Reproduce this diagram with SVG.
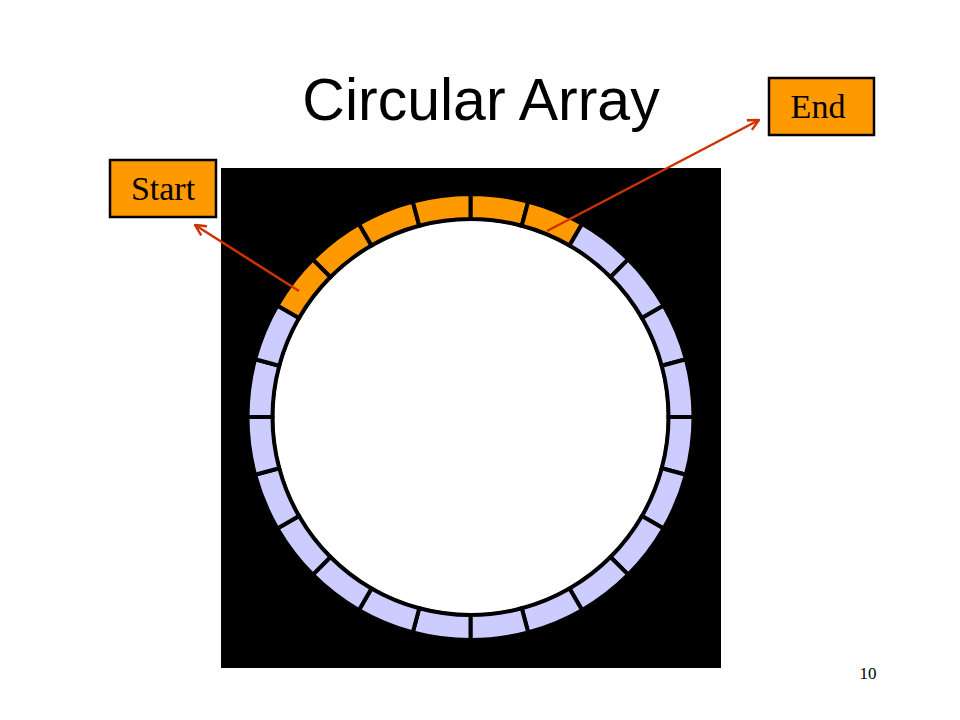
<svg xmlns="http://www.w3.org/2000/svg" width="960" height="720" viewBox="0 0 960 720">
<style>
.seg{stroke:#000;stroke-width:4;stroke-linejoin:miter}
.free{fill:#CCCCFF}
.used{fill:#FF9900}
.box{fill:#FF9900;stroke:#000;stroke-width:2.5}
.lbl{font-family:"Liberation Serif","Times New Roman",serif;font-size:34px;fill:#000;text-anchor:middle}
.title{font-family:"Liberation Sans",Arial,sans-serif;font-size:59px;fill:#000;text-anchor:middle}
.pg{font-family:"Liberation Serif","Times New Roman",serif;font-size:17px;fill:#000;text-anchor:middle}
.arr{stroke:#CC3300;stroke-width:2.5;fill:none}
</style>
<defs>
<marker id="ah" viewBox="0 0 12 12" refX="11" refY="6" markerWidth="13" markerHeight="13" markerUnits="userSpaceOnUse" orient="auto">
<path d="M1,1 L11,6 L1,11" fill="none" stroke="#CC3300" stroke-width="2.2"/>
</marker>
</defs>
<rect width="960" height="720" fill="#fff"/>
<text class="title" x="481" y="120">Circular Array</text>
<rect x="221" y="168" width="500" height="500" fill="#000"/>
<g id="ring">
<circle cx="470.5" cy="417" r="198" fill="#fff" stroke="#000" stroke-width="3"/>
<g id="seg0"><path class="seg used" d="M470.5,194 A223,223 0 0 1 528.22,201.6 L521.75,225.75 A198,198 0 0 0 470.5,219 Z"/></g>
<g id="seg1"><path class="seg used" d="M528.22,201.6 A223,223 0 0 1 582,223.88 L569.5,245.53 A198,198 0 0 0 521.75,225.75 Z"/></g>
<g id="seg2"><path class="seg free" d="M582,223.88 A223,223 0 0 1 628.18,259.32 L610.51,276.99 A198,198 0 0 0 569.5,245.53 Z"/></g>
<g id="seg3"><path class="seg free" d="M628.18,259.32 A223,223 0 0 1 663.62,305.5 L641.97,318 A198,198 0 0 0 610.51,276.99 Z"/></g>
<g id="seg4"><path class="seg free" d="M663.62,305.5 A223,223 0 0 1 685.9,359.28 L661.75,365.75 A198,198 0 0 0 641.97,318 Z"/></g>
<g id="seg5"><path class="seg free" d="M685.9,359.28 A223,223 0 0 1 693.5,417 L668.5,417 A198,198 0 0 0 661.75,365.75 Z"/></g>
<g id="seg6"><path class="seg free" d="M693.5,417 A223,223 0 0 1 685.9,474.72 L661.75,468.25 A198,198 0 0 0 668.5,417 Z"/></g>
<g id="seg7"><path class="seg free" d="M685.9,474.72 A223,223 0 0 1 663.62,528.5 L641.97,516 A198,198 0 0 0 661.75,468.25 Z"/></g>
<g id="seg8"><path class="seg free" d="M663.62,528.5 A223,223 0 0 1 628.18,574.68 L610.51,557.01 A198,198 0 0 0 641.97,516 Z"/></g>
<g id="seg9"><path class="seg free" d="M628.18,574.68 A223,223 0 0 1 582,610.12 L569.5,588.47 A198,198 0 0 0 610.51,557.01 Z"/></g>
<g id="seg10"><path class="seg free" d="M582,610.12 A223,223 0 0 1 528.22,632.4 L521.75,608.25 A198,198 0 0 0 569.5,588.47 Z"/></g>
<g id="seg11"><path class="seg free" d="M528.22,632.4 A223,223 0 0 1 470.5,640 L470.5,615 A198,198 0 0 0 521.75,608.25 Z"/></g>
<g id="seg12"><path class="seg free" d="M470.5,640 A223,223 0 0 1 412.78,632.4 L419.25,608.25 A198,198 0 0 0 470.5,615 Z"/></g>
<g id="seg13"><path class="seg free" d="M412.78,632.4 A223,223 0 0 1 359,610.12 L371.5,588.47 A198,198 0 0 0 419.25,608.25 Z"/></g>
<g id="seg14"><path class="seg free" d="M359,610.12 A223,223 0 0 1 312.82,574.68 L330.49,557.01 A198,198 0 0 0 371.5,588.47 Z"/></g>
<g id="seg15"><path class="seg free" d="M312.82,574.68 A223,223 0 0 1 277.38,528.5 L299.03,516 A198,198 0 0 0 330.49,557.01 Z"/></g>
<g id="seg16"><path class="seg free" d="M277.38,528.5 A223,223 0 0 1 255.1,474.72 L279.25,468.25 A198,198 0 0 0 299.03,516 Z"/></g>
<g id="seg17"><path class="seg free" d="M255.1,474.72 A223,223 0 0 1 247.5,417 L272.5,417 A198,198 0 0 0 279.25,468.25 Z"/></g>
<g id="seg18"><path class="seg free" d="M247.5,417 A223,223 0 0 1 255.1,359.28 L279.25,365.75 A198,198 0 0 0 272.5,417 Z"/></g>
<g id="seg19"><path class="seg free" d="M255.1,359.28 A223,223 0 0 1 277.38,305.5 L299.03,318 A198,198 0 0 0 279.25,365.75 Z"/></g>
<g id="seg20"><path class="seg used" d="M277.38,305.5 A223,223 0 0 1 312.82,259.32 L330.49,276.99 A198,198 0 0 0 299.03,318 Z"/></g>
<g id="seg21"><path class="seg used" d="M312.82,259.32 A223,223 0 0 1 359,223.88 L371.5,245.53 A198,198 0 0 0 330.49,276.99 Z"/></g>
<g id="seg22"><path class="seg used" d="M359,223.88 A223,223 0 0 1 412.78,201.6 L419.25,225.75 A198,198 0 0 0 371.5,245.53 Z"/></g>
<g id="seg23"><path class="seg used" d="M412.78,201.6 A223,223 0 0 1 470.5,194 L470.5,219 A198,198 0 0 0 419.25,225.75 Z"/></g>
</g>
<g id="start">
<rect class="box" x="110" y="160" width="106" height="57"/>
<text class="lbl" x="163" y="200">Start</text>
</g>
<g id="end">
<rect class="box" x="769" y="78" width="105" height="57"/>
<text class="lbl" x="818" y="118">End</text>
</g>
<g id="connectors">
<line class="arr" x1="299" y1="291" x2="195" y2="225" marker-end="url(#ah)"/>
<line class="arr" x1="547" y1="231" x2="759" y2="120" marker-end="url(#ah)"/>
</g>
<text class="pg" x="868" y="679">10</text>
</svg>
